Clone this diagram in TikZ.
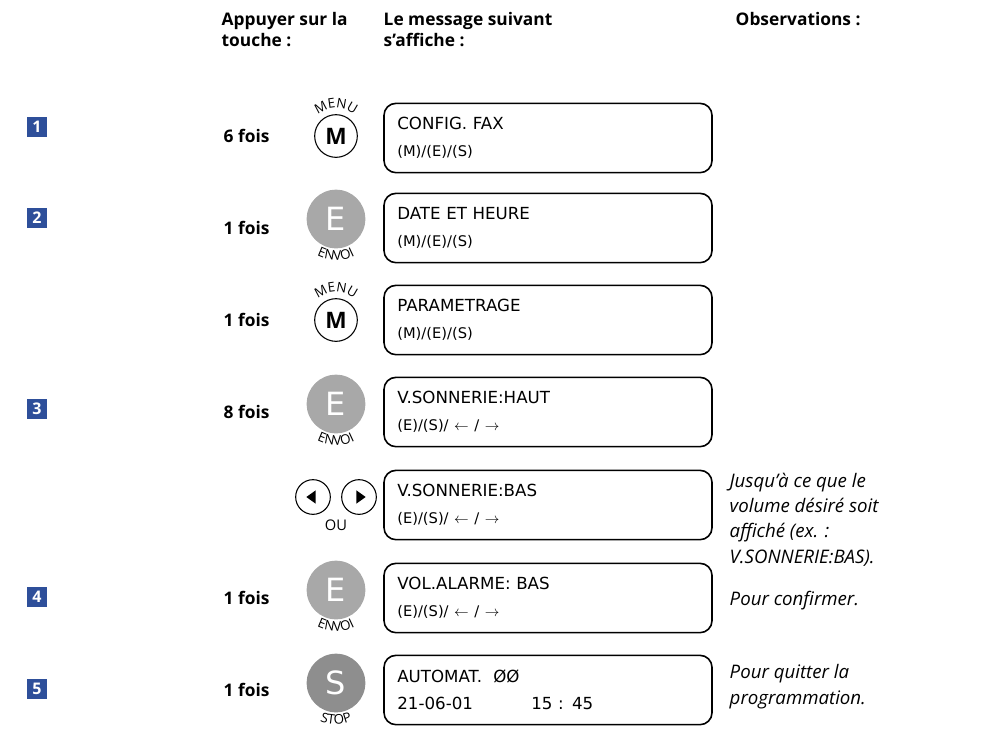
\documentclass[tikz,border=0pt]{standalone}
\usepackage{fontspec}
\setmainfont{Open Sans}
\newfontfamily\lcdfont{DejaVu Sans}
\usetikzlibrary{decorations.text}
\definecolor{stepblue}{HTML}{2E4F9A}
\definecolor{keygray}{HTML}{A8A8A8}
\definecolor{stopgray}{HTML}{8E8E8E}
\tikzset{
  stepnum/.style={fill=stepblue,text=white,font=\bfseries\fontsize{12}{12}\selectfont,minimum size=15pt,inner sep=0pt},
  fois/.style={anchor=west,font=\bfseries\fontsize{13}{13}\selectfont},
  head/.style={anchor=north west,align=left,font=\bfseries\fontsize{13}{15.5}\selectfont},
  display/.style={draw,line width=1.2pt,rounded corners=9pt,minimum width=246pt,minimum height=52pt,
    anchor=center,align=left,text width=226pt,font=\lcdfont\fontsize{12.5}{20}\selectfont},
  obs/.style={anchor=north west,align=left,font=\itshape\fontsize{14}{19}\selectfont},
}
\newcommand{\sm}{\fontsize{11}{20}\selectfont}
\newcommand{\menukey}[2]{% name, position
  \node[circle,draw,thick,minimum size=32pt,inner sep=0pt,font=\bfseries\fontsize{17}{17}\selectfont] (#1) at (#2) {M};
  \path[decoration={text along path,text={MENU},text align=center},decorate,font=\fontsize{7.5}{7.5}\selectfont]
    ([shift={(145:21pt)}]#1.center) arc[start angle=145,end angle=35,radius=21pt];}
\newcommand{\bigkey}[5]{% name, position, letter, colour, label
  \node[circle,fill=#4,minimum size=44pt,inner sep=0pt,text=white,font=\lcdfont\fontsize{24}{24}\selectfont] (#1) at (#2) {#3};
  \path[decoration={text along path,text={#5},text align=center},decorate,font=\fontsize{8.5}{8.5}\selectfont]
    ([shift={(235:31pt)}]#1.center) arc[start angle=235,end angle=305,radius=31pt];}
\begin{document}
\begin{tikzpicture}[x=0.75pt,y=-0.75pt]
  \useasboundingbox (0,0) rectangle (981,751);
  % headers
  \node[head] (hkey) at (217,8) {Appuyer sur la\\touche :};
  \node[head] (hmsg) at (379,8) {Le message suivant\\s’affiche :};
  \node[head] (hobs) at (731,8) {Observations :};

  % steps
  \node[stepnum] (s1) at (37,127) {1};
  \node[stepnum] (s2) at (37,218) {2};
  \node[stepnum] (s3) at (37,409) {3};
  \node[stepnum] (s4) at (37,597) {4};
  \node[stepnum] (s5) at (37,689) {5};

  % times
  \node[fois] (f1) at (219,136) {6 fois};
  \node[fois] (f2) at (219,228) {1 fois};
  \node[fois] (f3) at (219,320) {1 fois};
  \node[fois] (f4) at (219,412) {8 fois};
  \node[fois] (f6) at (219,598) {1 fois};
  \node[fois] (f7) at (219,690) {1 fois};

  % keys
  \menukey{k1}{336,136}
  \bigkey{k2}{336,219}{E}{keygray}{ENVOI}
  \menukey{k3}{336,320}
  \bigkey{k4}{336,404}{E}{keygray}{ENVOI}
  \node[circle,draw,thick,minimum size=26pt,inner sep=0pt] (kl) at (313,497) {};
  \fill (kl.center) ++(-5pt,0) -- ++(7pt,5pt) -- ++(0,-10pt) -- cycle;
  \node[circle,draw,thick,minimum size=26pt,inner sep=0pt] (kr) at (359,497) {};
  \fill (kr.center) ++(5pt,0) -- ++(-7pt,5pt) -- ++(0,-10pt) -- cycle;
  \node[font=\fontsize{11}{11}\selectfont] (ou) at (336,525) {OU};
  \bigkey{k6}{336,590}{E}{keygray}{ENVOI}
  \bigkey{k7}{336,683}{S}{stopgray}{STOP}

  % displays
  \node[display] (d1) at (548,138) {CONFIG. FAX\\{\sm(M)/(E)/(S)}};
  \node[display] (d2) at (548,228) {DATE ET HEURE\\{\sm(M)/(E)/(S)}};
  \node[display] (d3) at (548,320) {PARAMETRAGE\\{\sm(M)/(E)/(S)}};
  \node[display] (d4) at (548,412) {V.SONNERIE:HAUT\\{\sm(E)/(S)/ $\leftarrow$ / $\rightarrow$}};
  \node[display] (d5) at (548,505) {V.SONNERIE:BAS\\{\sm(E)/(S)/ $\leftarrow$ / $\rightarrow$}};
  \node[display] (d6) at (548,598) {VOL.ALARME: BAS\\{\sm(E)/(S)/ $\leftarrow$ / $\rightarrow$}};
  \node[display] (d7) at (548,690) {AUTOMAT.\ \ ØØ\\21-06-01\hspace{3.5em}15 : 45};

  % observations
  \node[obs] (o5) at (725,468) {Jusqu’à ce que le\\volume désiré soit\\affiché (ex. :\\V.SONNERIE:BAS).};
  \node[obs] (o6) at (725,586) {Pour confirmer.};
  \node[obs] (o7) at (725,660) {Pour quitter la\\programmation.};
\end{tikzpicture}
\end{document}
